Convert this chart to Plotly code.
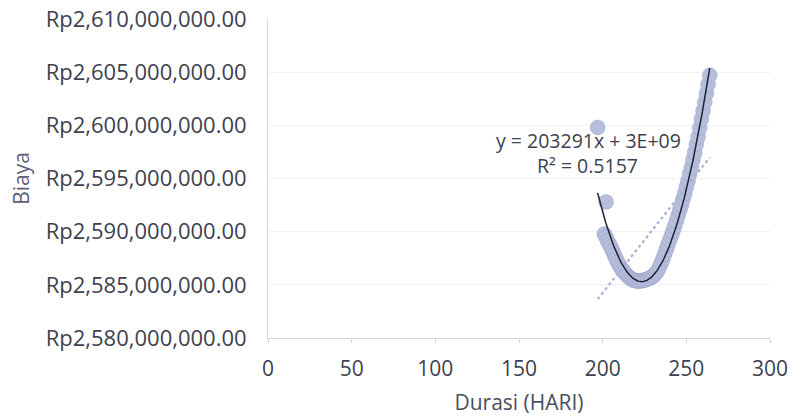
import numpy as np
import plotly.graph_objects as go

# Durasi (hari) and Biaya (juta rupiah)
durasi = [197, 202,
          201, 202, 203, 204, 205, 206, 207, 208, 209, 210,
          211, 212, 213, 214, 215, 216, 217, 218, 219, 220,
          221, 222, 223, 224, 225, 226, 227, 228, 229, 230,
          231, 232, 233, 234, 235, 236, 237, 238, 239, 240,
          241, 242, 243, 244, 245, 246, 247, 248, 249, 250,
          251, 252, 253, 254, 255, 256, 257, 258, 259, 260,
          261, 262, 263, 264]
biaya_juta = [2599.80, 2592.80,
              2589.77, 2589.49, 2589.12, 2588.83, 2588.55, 2588.17, 2587.80, 2587.45, 2587.12, 2586.85,
              2586.58, 2586.36, 2586.16, 2585.98, 2585.82, 2585.68, 2585.57, 2585.48, 2585.42, 2585.38,
              2585.36, 2585.36, 2585.38, 2585.41, 2585.45, 2585.50, 2585.56, 2585.63, 2585.70, 2585.80,
              2585.94, 2586.12, 2586.36, 2586.68, 2587.05, 2587.45, 2587.87, 2588.31, 2588.77, 2589.18,
              2589.59, 2590.03, 2590.49, 2590.98, 2591.49, 2592.02, 2592.48, 2593.06, 2593.57, 2594.20,
              2594.76, 2595.44, 2596.05, 2596.77, 2597.43, 2598.21, 2598.91, 2599.74, 2600.59, 2601.36,
              2602.17, 2602.99, 2603.84, 2604.71]

x_ticks = [0, 50, 100, 150, 200, 250, 300]
y_ticks = [2580e6, 2585e6, 2590e6, 2595e6, 2600e6, 2605e6, 2610e6]
y_ticktext = ["Rp{:,.2f}".format(v) for v in y_ticks]

eq_text = "y = 203291x + 3E+09"
r2_text = "R² = 0.5157"

x = np.array(durasi, dtype=float)
y = np.array(biaya_juta) * 1e6

# trendlines computed from the data
xs = np.linspace(x.min(), x.max(), 200)
poly = np.polyfit(x, y, 2)
lin = np.polyfit(x, y, 1)

font_fam = "Open Sans"
txt_col = "#3d4150"

fig = go.Figure()
fig.add_trace(go.Scatter(
    x=x, y=y, mode="markers",
    marker=dict(size=15, color="#b7bedb",
                line=dict(width=0.6, color="rgba(140,150,195,0.6)")),
    showlegend=False, hoverinfo="skip"))
fig.add_trace(go.Scatter(
    x=xs, y=np.polyval(lin, xs), mode="lines",
    line=dict(color="#a9b1d3", width=2.2, dash="dot"),
    showlegend=False, hoverinfo="skip"))
fig.add_trace(go.Scatter(
    x=xs, y=np.polyval(poly, xs), mode="lines",
    line=dict(color="#1e2233", width=1.5),
    showlegend=False, hoverinfo="skip"))

fig.add_annotation(x=191.8, y=2598.55e6, text=eq_text, showarrow=False,
                   font=dict(family=font_fam, size=19.5, color=txt_col),
                   xanchor="center", yanchor="middle")
fig.add_annotation(x=191.0, y=2596.2e6, text=r2_text, showarrow=False,
                   font=dict(family=font_fam, size=19.5, color=txt_col),
                   xanchor="center", yanchor="middle")

fig.update_layout(
    width=792, height=420,
    margin=dict(l=268, r=22, t=19, b=82, autoexpand=False),
    paper_bgcolor="white", plot_bgcolor="white",
    font=dict(family=font_fam, size=21, color=txt_col),
    xaxis=dict(range=[0, 300], tickvals=x_ticks, showgrid=False,
               automargin=False,
               showline=True, linecolor="#d4d7e0", linewidth=1,
               ticks="outside", ticklen=4, tickcolor="#d4d7e0",
               ticklabelstandoff=8, zeroline=False,
               title=dict(text="Durasi (HARI)", standoff=14,
                          font=dict(size=21, color="#4a4f60"))),
    yaxis=dict(range=[2580e6, 2610e6], tickvals=y_ticks, ticktext=y_ticktext,
               tickfont=dict(size=22),
               automargin=False,
               showgrid=True, gridcolor="#f0f1f4", gridwidth=1,
               showline=True, linecolor="#d4d7e0", linewidth=1,
               ticks="", ticklabelstandoff=16, zeroline=False,
               title=dict(text="Biaya", standoff=10,
                          font=dict(size=21, color="#5b6178"))),
)

fig.write_html("out.html", config={"displayModeBar": False},
               post_script="document.body.style.margin='0px';")
